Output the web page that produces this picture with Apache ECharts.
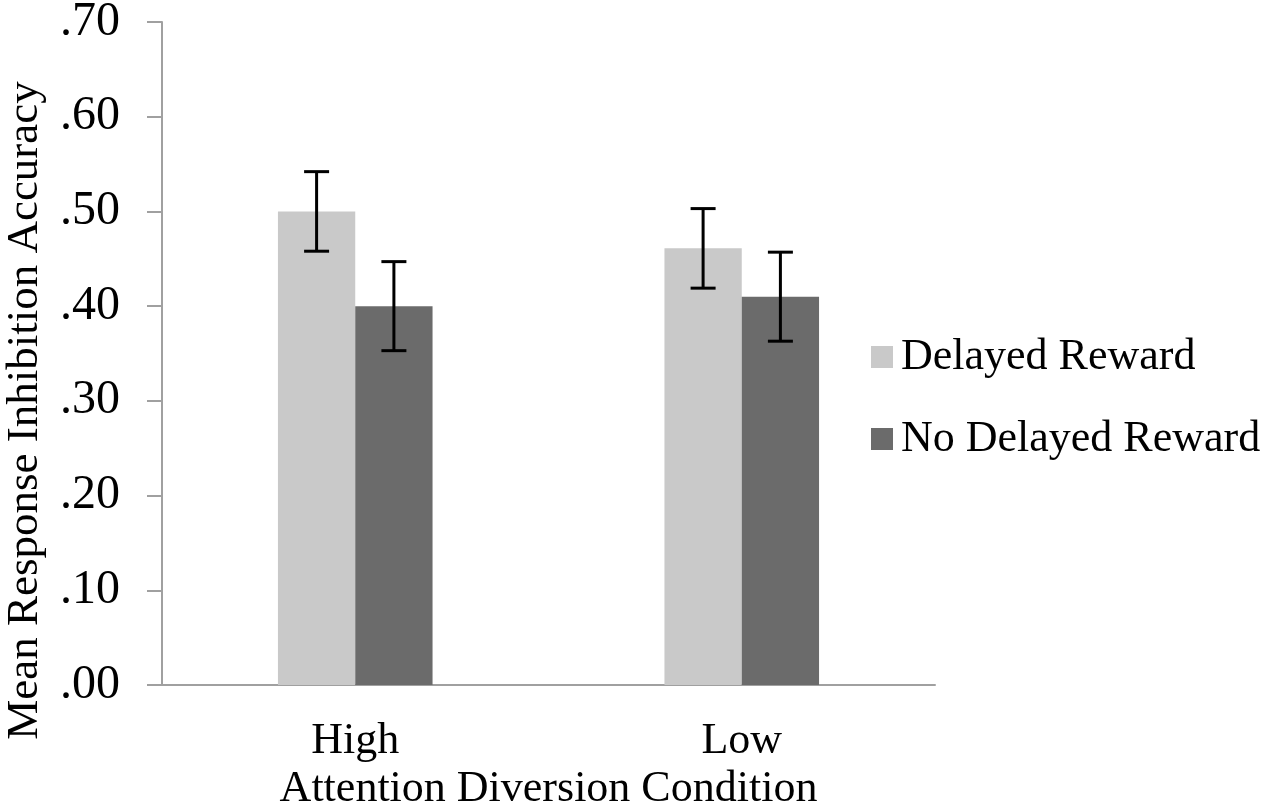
<!DOCTYPE html>
<html>
<head>
<meta charset="utf-8">
<script src="https://cdn.jsdelivr.net/npm/echarts@6/dist/echarts.min.js"></script>
<style>
  html, body { margin: 0; padding: 0; background: #fff; }
  #chart { width: 1272px; height: 809px; }
</style>
</head>
<body>
<div id="chart"></div>
<script>
var categories = ['High', 'Low'];
var seriesNames = ['Delayed Reward', 'No Delayed Reward'];
var delayedMeans = [0.500, 0.461];
var noDelayedMeans = [0.400, 0.410];
var delayedErr = [0.042, 0.042];
var noDelayedErr = [0.047, 0.047];

var font = '"Liberation Serif", "Times New Roman", serif';
var axisGrey = '#a0a0a0';

// error bar for one series; side -1 = left bar, +1 = right bar
function errorSeries(name, means, errs, side) {
    var data = means.map(function (m, i) {
        return [i, m - errs[i], m + errs[i]];
    });
    return {
        name: name,
        type: 'custom',
        silent: true,
        z: 10,
        renderItem: function (params, api) {
            var band = api.size([1, 0])[0];
            var lo = api.coord([api.value(0), api.value(1)]);
            var hi = api.coord([api.value(0), api.value(2)]);
            var x = lo[0] + side * band * 0.1;
            var half = 12.5;
            var style = { stroke: '#000', lineWidth: 3 };
            return {
                type: 'group',
                children: [
                    { type: 'line', shape: { x1: x, y1: hi[1], x2: x, y2: lo[1] }, style: style },
                    { type: 'line', shape: { x1: x - half, y1: hi[1], x2: x + half, y2: hi[1] }, style: style },
                    { type: 'line', shape: { x1: x - half, y1: lo[1], x2: x + half, y2: lo[1] }, style: style }
                ]
            };
        },
        data: data
    };
}

var myChart = echarts.init(document.getElementById('chart'));
myChart.setOption({
    animation: false,
    textStyle: { fontFamily: font },
    grid: { left: 162, right: 337, top: 22, bottom: 124, outerBoundsMode: 'none', containLabel: false },
    legend: {
        orient: 'vertical',
        left: 866,
        top: 330,
        itemWidth: 22,
        itemHeight: 22,
        itemGap: 38,
        icon: 'rect',
        data: seriesNames,
        textStyle: { fontFamily: font, fontSize: 44, color: '#000', padding: [0, 0, 0, 3] }
    },
    xAxis: {
        type: 'category',
        data: categories,
        name: 'Attention Diversion Condition',
        nameLocation: 'middle',
        nameGap: 78,
        nameTextStyle: { fontFamily: font, fontSize: 44, color: '#000' },
        axisLine: { lineStyle: { color: axisGrey, width: 2 } },
        axisTick: { show: false },
        axisLabel: { fontFamily: font, fontSize: 44, color: '#000', margin: 34 }
    },
    yAxis: {
        type: 'value',
        min: 0,
        max: 0.7,
        interval: 0.1,
        name: 'Mean Response Inhibition Accuracy',
        nameLocation: 'middle',
        nameGap: 114,
        nameTextStyle: { fontFamily: font, fontSize: 45, color: '#000', padding: [0, 114, 0, 0] },
        axisLine: { show: true, lineStyle: { color: axisGrey, width: 2 } },
        axisTick: { show: true, length: 15, lineStyle: { color: axisGrey, width: 2 } },
        splitLine: { show: false },
        axisLabel: {
            fontFamily: font,
            fontSize: 48,
            color: '#000',
            margin: 42,
            formatter: function (v) { return v.toFixed(2).replace(/^0/, ''); }
        }
    },
    series: [
        {
            name: seriesNames[0],
            type: 'bar',
            data: delayedMeans,
            barGap: '0%',
            barCategoryGap: '60%',
            itemStyle: { color: '#c9c9c9' }
        },
        {
            name: seriesNames[1],
            type: 'bar',
            data: noDelayedMeans,
            barGap: '0%',
            barCategoryGap: '60%',
            itemStyle: { color: '#6b6b6b' }
        },
        errorSeries(seriesNames[0], delayedMeans, delayedErr, -1),
        errorSeries(seriesNames[1], noDelayedMeans, noDelayedErr, 1)
    ]
});
</script>
</body>
</html>
